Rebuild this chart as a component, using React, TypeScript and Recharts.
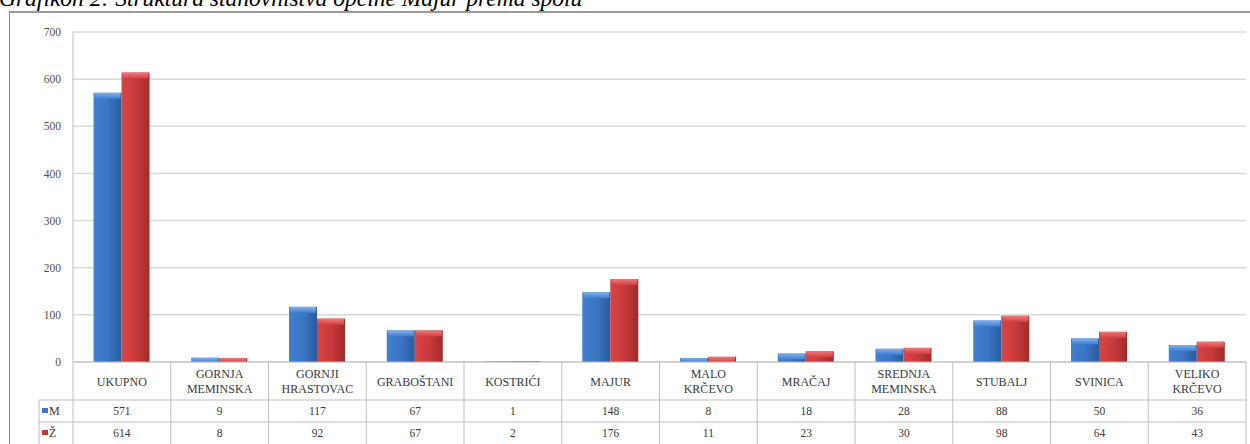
import { BarChart, Bar, XAxis, YAxis, CartesianGrid } from "recharts";

const categories = [
  "UKUPNO",
  "GORNJA MEMINSKA",
  "GORNJI HRASTOVAC",
  "GRABOŠTANI",
  "KOSTRIĆI",
  "MAJUR",
  "MALO KRČEVO",
  "MRAČAJ",
  "SREDNJA MEMINSKA",
  "STUBALJ",
  "SVINICA",
  "VELIKO KRČEVO",
];
const male = [571, 9, 117, 67, 1, 148, 8, 18, 28, 88, 50, 36];
const female = [614, 8, 92, 67, 2, 176, 11, 23, 30, 98, 64, 43];
const yTicks = [0, 100, 200, 300, 400, 500, 600, 700];

const W = 1250;
const H = 444;
const AXIS_W = 73;
const RIGHT = 4;
const BAND = (W - AXIS_W - RIGHT) / categories.length;
const LINE = "#bfbfbf";
const TEXT = "#3a3a3a";
const FONT = "'Liberation Serif', 'Times New Roman', serif";

const data = categories.map((name, i) => ({ name, m: male[i], z: female[i] }));

// 3d-ish column like the Excel one
const Column = (props: any) => {
  const { x, y, width, height, grad, cap } = props;
  if (!height || height <= 0) return null;
  const capH = Math.min(6, height);
  return (
    <g>
      <rect x={x} y={y} width={width} height={height} fill={`url(#${grad})`} />
      <rect x={x + 1} y={y} width={width - 2} height={capH} fill={`url(#${cap})`} />
    </g>
  );
};

// category label + data table cells under each column
const TableTick = (props: any) => {
  const { x, y, payload } = props;
  const i = payload.index;
  const words = String(payload.value).split(" ");
  const left = x - BAND / 2;
  const right = x + BAND / 2;
  const r1 = y + 38;
  const r2 = y + 60;
  const r3 = y + 82;
  return (
    <g fontFamily={FONT} fontSize={12} fill={TEXT}>
      {words.length === 1 ? (
        <text x={x} y={y + 24} textAnchor="middle">
          {words[0]}
        </text>
      ) : (
        <>
          <text x={x} y={y + 16} textAnchor="middle">
            {words[0]}
          </text>
          <text x={x} y={y + 31} textAnchor="middle">
            {words[1]}
          </text>
        </>
      )}
      <text x={x} y={r1 + 15} textAnchor="middle" fontSize={11.5}>
        {male[i]}
      </text>
      <text x={x} y={r2 + 15} textAnchor="middle" fontSize={11.5}>
        {female[i]}
      </text>
      <line x1={right} y1={y} x2={right} y2={r3} stroke={LINE} />
      <line x1={left} y1={r1} x2={right} y2={r1} stroke={LINE} />
      <line x1={left} y1={r2} x2={right} y2={r2} stroke={LINE} />
      {i === 0 && (
        <g>
          <line x1={left} y1={y} x2={left} y2={r3} stroke={LINE} />
          <line x1={left - 34} y1={r1} x2={left} y2={r1} stroke={LINE} />
          <line x1={left - 34} y1={r2} x2={left} y2={r2} stroke={LINE} />
          <line x1={left - 34} y1={r1} x2={left - 34} y2={r3} stroke={LINE} />
          <rect x={left - 31} y={r1 + 8} width={6} height={5} fill="#3a76c4" />
          <text x={left - 24} y={r1 + 15}>M</text>
          <rect x={left - 31} y={r2 + 8} width={6} height={5} fill="#c83a3a" />
          <text x={left - 24} y={r2 + 15}>Ž</text>
        </g>
      )}
    </g>
  );
};

export default function App() {
  return (
    <div style={{ position: "absolute", left: 0, top: 0, width: W, height: H, overflow: "hidden", background: "#fff" }}>
      <div
        style={{
          position: "absolute",
          left: -1,
          top: -15,
          fontFamily: FONT,
          fontStyle: "italic",
          fontSize: 23.5,
          color: "#000",
          whiteSpace: "nowrap",
        }}
      >
        Grafikon 2: Struktura stanovništva općine Majur prema spolu
      </div>
      <div
        style={{
          position: "absolute",
          left: 9,
          top: 11,
          width: W,
          height: H,
          borderLeft: "1px solid #8c8c8c",
          borderTop: "2px solid #9a9a9a",
        }}
      />
      <div style={{ position: "absolute", left: 0, top: 0 }}>
        <BarChart
          width={W}
          height={H}
          data={data}
          margin={{ top: 32, right: RIGHT, bottom: 0, left: 0 }}
          barCategoryGap="21%"
          barGap={0}
        >
          <defs>
            <linearGradient id="gm" x1="0" y1="0" x2="1" y2="0">
              <stop offset="0%" stopColor="#3f80d0" />
              <stop offset="50%" stopColor="#3a76c4" />
              <stop offset="100%" stopColor="#2b5a9c" />
            </linearGradient>
            <linearGradient id="gz" x1="0" y1="0" x2="1" y2="0">
              <stop offset="0%" stopColor="#d84343" />
              <stop offset="50%" stopColor="#c93b3b" />
              <stop offset="100%" stopColor="#9e2b2b" />
            </linearGradient>
            <linearGradient id="cm" x1="0" y1="0" x2="0" y2="1">
              <stop offset="0%" stopColor="#7fb0ec" />
              <stop offset="100%" stopColor="#3f7fcf" />
            </linearGradient>
            <linearGradient id="cz" x1="0" y1="0" x2="0" y2="1">
              <stop offset="0%" stopColor="#ec7b7b" />
              <stop offset="100%" stopColor="#d44141" />
            </linearGradient>
          </defs>
          <CartesianGrid horizontal vertical={false} stroke="#d9d9d9" strokeWidth={1.5} />
          <YAxis
            width={AXIS_W}
            domain={[0, 700]}
            ticks={yTicks}
            interval={0}
            tickSize={0}
            tickMargin={12}
            axisLine={{ stroke: LINE }}
            tick={{ fontSize: 11.5, fontFamily: FONT, fill: "#505050" }}
          />
          <XAxis
            dataKey="name"
            height={82}
            interval={0}
            tickSize={0}
            tickMargin={0}
            axisLine={{ stroke: LINE }}
            tickLine={false}
            tick={<TableTick />}
          />
          <Bar
            dataKey="m"
            name="M"
            isAnimationActive={false}
            shape={(p: any) => <Column {...p} grad="gm" cap="cm" />}
          />
          <Bar
            dataKey="z"
            name="Ž"
            isAnimationActive={false}
            shape={(p: any) => <Column {...p} grad="gz" cap="cz" />}
          />
        </BarChart>
      </div>
    </div>
  );
}
